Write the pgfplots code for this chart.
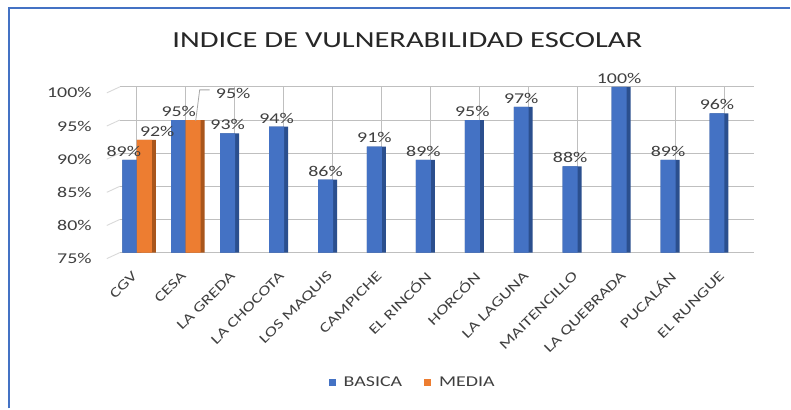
\documentclass[border=0pt]{standalone}
\usepackage{pgfplots}
\pgfplotsset{compat=1.18}
\usepackage{fontspec}
\setmainfont{Carlito}[FakeStretch=1.33]

\definecolor{blf}{HTML}{4472C4}
\definecolor{bld}{HTML}{2B4F8E}
\definecolor{orf}{HTML}{ED7D31}
\definecolor{ord}{HTML}{A9561C}
\definecolor{txt}{HTML}{404040}
\definecolor{grid}{HTML}{D9D9D9}
\definecolor{frame}{HTML}{4472C4}

% BASICA: one bar for every school
\pgfplotstableread{
x y
0 89
1 95
2 93
3 94
4 86
5 91
6 89
7 95
8 97
9 88
10 100
11 89
12 96
}\basica

% MEDIA: only CGV and CESA
\pgfplotstableread{
x y
0 92
1 95
}\media

\begin{document}
\begin{tikzpicture}[x=1bp,y=1bp]
\path[fill=white] (0,0) rectangle (791,409);
\draw[frame, line width=2.5bp] (9,0) -- (9,401) -- (791,401);
\node[font=\fontsize{23bp}{26bp}\selectfont, text=txt!60!black] at (408,369) {INDICE DE VULNERABILIDAD ESCOLAR};
\begin{axis}[
  at={(120bp,156bp)}, anchor=south west,
  scale only axis, width=635bp, height=166bp,
  xmin=-0.347, xmax=12.61, ymin=75, ymax=100,
  clip=false,
  axis line style={draw=none},
  tick style={draw=none},
  ymajorgrids, major grid style={grid, line width=0.9bp},
  ytick={75,80,...,100},
  yticklabels={75\%,80\%,85\%,90\%,95\%,100\%},
  yticklabel style={font=\fontsize{15bp}{17bp}\selectfont, text=txt, anchor=east, inner sep=0pt, xshift=-28bp, yshift=-6bp},
  xtick={0,...,12},
  xticklabels={CGV,CESA,LA GREDA,LA CHOCOTA,LOS MAQUIS,CAMPICHE,EL RINCÓN,HORCÓN,LA LAGUNA,MAITENCILLO,LA QUEBRADA,PUCALÁN,EL RUNGUE},
  xticklabel style={font=\fontsize{14bp}{16bp}\selectfont, text=txt, inner sep=0pt, anchor=east, xshift=-2bp, yshift=-17bp, rotate=45},
  ybar,
  every node near coord/.append style={font=\fontsize{15bp}{17bp}\selectfont, text=txt},
  legend style={at={(0.462,-0.783)}, anchor=center, draw=none, fill=none,
    legend columns=2, font=\fontsize{15bp}{17bp}\selectfont, text=txt,
    /tikz/every odd column/.append style={column sep=6bp},
    /tikz/every even column/.append style={column sep=20bp}},
]
% dark side of the BASICA bars, then the front face
\addplot[draw=none, fill=bld, bar width=19bp, bar shift=-5bp, forget plot]
  table[x=x, y=y] {\basica};
\addplot[draw=none, fill=blf, bar width=15bp, bar shift=-7bp,
  nodes near coords={\pgfmathprintnumber[fixed,precision=0,assume math mode=true]{\pgfplotspointmeta}\%},
  coordinate style/.condition={x<0.5}{xshift=-6bp},
  legend image code/.code={\fill[blf] (0bp,-3.5bp) rectangle (7bp,3.5bp);}]
  table[x=x, y=y] {\basica};
\addlegendentry{BASICA}
% MEDIA, same way
\addplot[draw=none, fill=ord, bar width=19bp, bar shift=9.5bp, forget plot]
  table[x=x, y=y] {\media};
\addplot[draw=none, fill=orf, bar width=15bp, bar shift=7.5bp,
  nodes near coords={\pgfmathprintnumber[fixed,precision=0,assume math mode=true]{\pgfplotspointmeta}\%},
  coordinate style/.condition={x<0.5}{xshift=13bp},
  coordinate style/.condition={x>0.5}{xshift=40bp, yshift=18bp},
  legend image code/.code={\fill[orf] (0bp,-3.5bp) rectangle (7bp,3.5bp);}]
  table[x=x, y=y] {\media};
\addlegendentry{MEDIA}
\pgfplotsinvokeforeach{75,80,...,100}{
  \draw[grid, line width=0.9bp] (axis cs:-0.347,#1) -- ++(-13bp,-6bp);
}
\end{axis}
\draw[gray!70, line width=0.8bp] (210,319) -- (200,319) -- (196,288);
\end{tikzpicture}
\end{document}
